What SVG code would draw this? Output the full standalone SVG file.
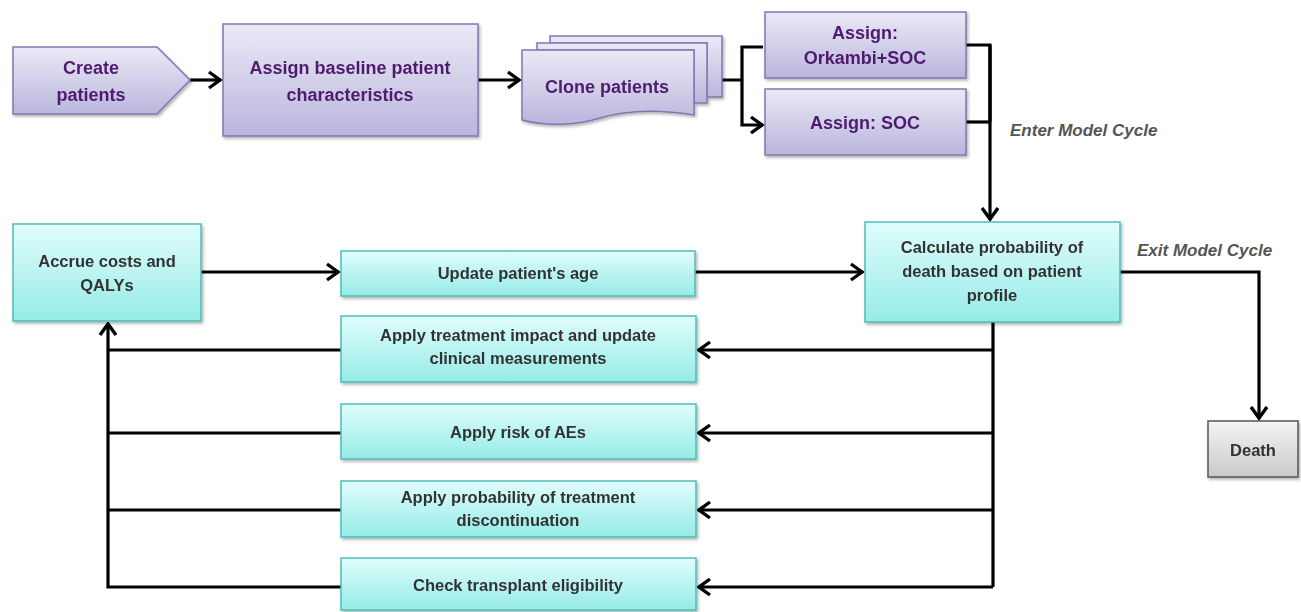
<svg xmlns="http://www.w3.org/2000/svg" width="1301" height="612" viewBox="0 0 1301 612">
  <style>
    .lbl { font-family: "Liberation Sans", Arial, sans-serif; font-weight: bold; text-anchor: middle; }
    .pur { fill: url(#gPur); stroke: #7d78b0; stroke-width: 1.5; }
    .cyn { fill: url(#gCyn); stroke: #4fbdb6; stroke-width: 1.5; }
    .gry { fill: url(#gGry); stroke: #555555; stroke-width: 1.5; }
    .tp { fill: #4e1b6e; font-size: 18px; }
    .tc { fill: #333333; font-size: 16.5px; }
    .note { font-family: "Liberation Sans", Arial, sans-serif; font-weight: bold; font-style: italic; fill: #555555; font-size: 17px; }
    .wire { fill: none; stroke: #000000; stroke-width: 3.2; }
    .arr { marker-end: url(#head); }
  </style>
  <defs>
    <linearGradient id="gPur" x1="0" y1="0" x2="0" y2="1">
      <stop offset="0" stop-color="#ebe9f6"/>
      <stop offset="1" stop-color="#bab6dd"/>
    </linearGradient>
    <linearGradient id="gCyn" x1="0" y1="0" x2="0" y2="1">
      <stop offset="0" stop-color="#e0fdfc"/>
      <stop offset="1" stop-color="#96ebe7"/>
    </linearGradient>
    <linearGradient id="gGry" x1="0" y1="0" x2="0" y2="1">
      <stop offset="0" stop-color="#f4f4f4"/>
      <stop offset="1" stop-color="#c9c9c9"/>
    </linearGradient>
    <filter id="shadow" x="-10%" y="-10%" width="125%" height="130%">
      <feDropShadow dx="1.5" dy="2" stdDeviation="1.5" flood-color="#000" flood-opacity="0.3"/>
    </filter>
    <marker id="head" viewBox="0 0 16 20" refX="14.5" refY="10" markerWidth="16" markerHeight="20" markerUnits="userSpaceOnUse" orient="auto">
      <path d="M2.5,2 L13.5,10 L2.5,18" fill="none" stroke="#000" stroke-width="3.4" stroke-linejoin="miter"/>
    </marker>
  </defs>

  <!-- connectors -->
  <g id="connectors">
    <line class="wire arr" x1="190" y1="80" x2="221" y2="80"/>
    <line class="wire arr" x1="478" y1="80" x2="520" y2="80"/>
    <line class="wire" x1="694" y1="80" x2="742" y2="80"/>
    <polyline class="wire arr" points="763,47 742,47 742,125 763,125"/>
    <polyline class="wire" points="966,45 990,45 990,122"/>
    <line class="wire" x1="966" y1="122" x2="990" y2="122"/>
    <line class="wire arr" x1="990" y1="45" x2="990" y2="220"/>
    <polyline class="wire arr" points="1120,272 1259,272 1259,419"/>
    <line class="wire arr" x1="201" y1="272" x2="339" y2="272"/>
    <line class="wire arr" x1="695" y1="272" x2="863" y2="272"/>
    <line class="wire" x1="993" y1="322" x2="993" y2="587"/>
    <line class="wire arr" x1="993" y1="350" x2="698" y2="350"/>
    <line class="wire arr" x1="993" y1="433" x2="698" y2="433"/>
    <line class="wire arr" x1="993" y1="510" x2="698" y2="510"/>
    <line class="wire arr" x1="993" y1="587" x2="698" y2="587"/>
    <polyline class="wire" points="341,350 108,350"/>
    <polyline class="wire" points="341,433 108,433"/>
    <polyline class="wire" points="341,510 108,510"/>
    <polyline class="wire arr" points="341,587 108,587 108,323"/>
  </g>

  <g id="create-patients" filter="url(#shadow)">
    <polygon class="pur" points="13,47 157,47 190,80 157,114 13,114"/>
    <text class="lbl tp" x="91" y="74">Create</text>
    <text class="lbl tp" x="91" y="101">patients</text>
  </g>

  <g id="assign-baseline" filter="url(#shadow)">
    <rect class="pur" x="223" y="24" width="255" height="112"/>
    <text class="lbl tp" x="350" y="74">Assign baseline patient</text>
    <text class="lbl tp" x="350" y="101">characteristics</text>
  </g>

  <g id="clone-patients" filter="url(#shadow)">
    <path class="pur" d="M550,36 H722 V97 H707 V43 H550 Z"/>
    <path class="pur" d="M537,43 H707 V103 H694 V50 H537 Z"/>
    <path class="pur" d="M522,50 H694 V115 C650,108 620,112 600,118 C575,126 545,126 522,120 Z"/>
    <text class="lbl tp" x="607" y="93">Clone patients</text>
  </g>

  <g id="assign-orkambi" filter="url(#shadow)">
    <rect class="pur" x="765" y="12" width="201" height="66"/>
    <text class="lbl tp" x="865" y="39">Assign:</text>
    <text class="lbl tp" x="865" y="64">Orkambi+SOC</text>
  </g>

  <g id="assign-soc" filter="url(#shadow)">
    <rect class="pur" x="765" y="89" width="201" height="66"/>
    <text class="lbl tp" x="865" y="129">Assign: SOC</text>
  </g>

  <text class="note" x="1010" y="136">Enter Model Cycle</text>
  <text class="note" x="1137" y="256">Exit Model Cycle</text>

  <g id="calc-death" filter="url(#shadow)">
    <rect class="cyn" x="865" y="222" width="255" height="100"/>
    <text class="lbl tc" x="992" y="253">Calculate probability of</text>
    <text class="lbl tc" x="992" y="277">death based on patient</text>
    <text class="lbl tc" x="992" y="301">profile</text>
  </g>

  <g id="death" filter="url(#shadow)">
    <rect class="gry" x="1208" y="421" width="90" height="56"/>
    <text class="lbl tc" x="1253" y="456">Death</text>
  </g>

  <g id="accrue" filter="url(#shadow)">
    <rect class="cyn" x="13" y="224" width="188" height="97"/>
    <text class="lbl tc" x="107" y="267">Accrue costs and</text>
    <text class="lbl tc" x="107" y="291">QALYs</text>
  </g>

  <g id="update-age" filter="url(#shadow)">
    <rect class="cyn" x="341" y="251" width="354" height="45"/>
    <text class="lbl tc" x="518" y="279">Update patient's age</text>
  </g>

  <g id="treatment-impact" filter="url(#shadow)">
    <rect class="cyn" x="341" y="316" width="355" height="66"/>
    <text class="lbl tc" x="518" y="341">Apply treatment impact and update</text>
    <text class="lbl tc" x="518" y="364">clinical measurements</text>
  </g>

  <g id="risk-aes" filter="url(#shadow)">
    <rect class="cyn" x="341" y="404" width="355" height="55"/>
    <text class="lbl tc" x="518" y="438">Apply risk of AEs</text>
  </g>

  <g id="discontinuation" filter="url(#shadow)">
    <rect class="cyn" x="341" y="481" width="355" height="56"/>
    <text class="lbl tc" x="518" y="503">Apply probability of treatment</text>
    <text class="lbl tc" x="518" y="526">discontinuation</text>
  </g>

  <g id="transplant" filter="url(#shadow)">
    <rect class="cyn" x="341" y="558" width="355" height="52"/>
    <text class="lbl tc" x="518" y="591">Check transplant eligibility</text>
  </g>
</svg>
